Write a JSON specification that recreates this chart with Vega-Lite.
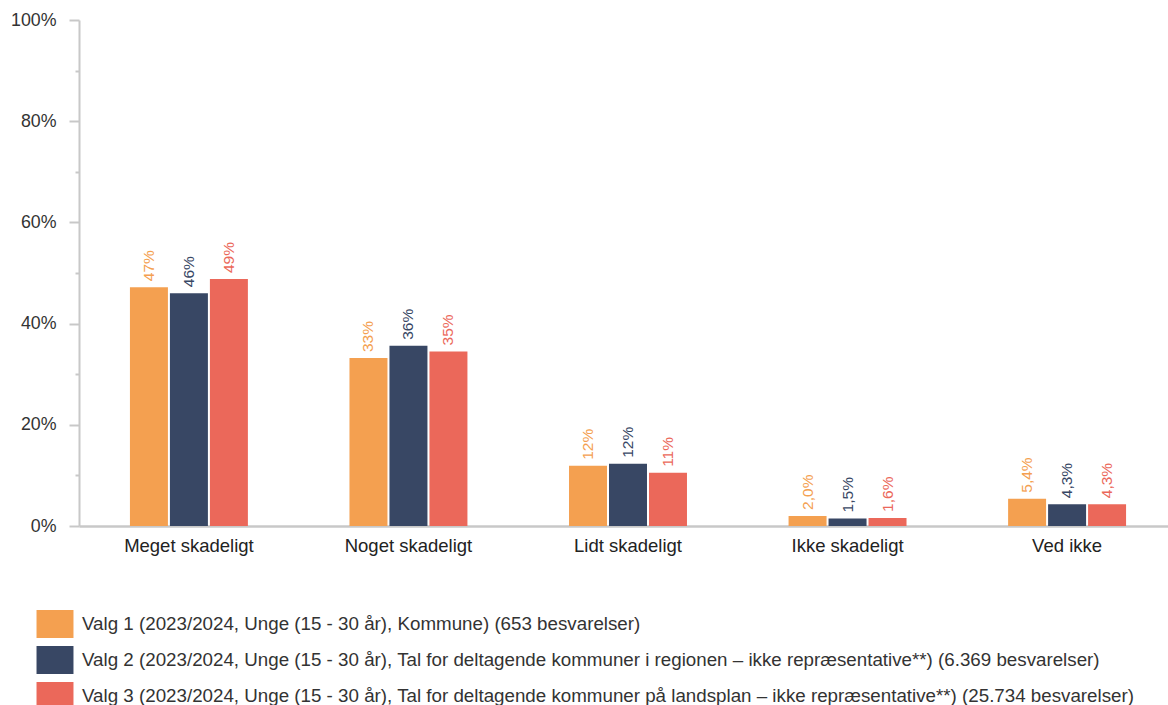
{
  "$schema": "https://vega.github.io/schema/vega-lite/v6.json",
  "autosize": "none",
  "width": 1089,
  "height": 506,
  "padding": {"left": 79, "top": 20, "right": 0, "bottom": 179},
  "background": "white",
  "config": {
    "font": "Liberation Sans",
    "view": {"stroke": null}
  },
  "data": {
    "values": [
      {"kategori": "Meget skadeligt", "serie": "Valg 1 (2023/2024, Unge (15 - 30 år), Kommune) (653 besvarelser)", "v": 0.472, "lbl": "47%"},
      {"kategori": "Meget skadeligt", "serie": "Valg 2 (2023/2024, Unge (15 - 30 år), Tal for deltagende kommuner i regionen – ikke repræsentative**) (6.369 besvarelser)", "v": 0.460, "lbl": "46%"},
      {"kategori": "Meget skadeligt", "serie": "Valg 3 (2023/2024, Unge (15 - 30 år), Tal for deltagende kommuner på landsplan – ikke repræsentative**) (25.734 besvarelser)", "v": 0.488, "lbl": "49%"},
      {"kategori": "Noget skadeligt", "serie": "Valg 1 (2023/2024, Unge (15 - 30 år), Kommune) (653 besvarelser)", "v": 0.332, "lbl": "33%"},
      {"kategori": "Noget skadeligt", "serie": "Valg 2 (2023/2024, Unge (15 - 30 år), Tal for deltagende kommuner i regionen – ikke repræsentative**) (6.369 besvarelser)", "v": 0.356, "lbl": "36%"},
      {"kategori": "Noget skadeligt", "serie": "Valg 3 (2023/2024, Unge (15 - 30 år), Tal for deltagende kommuner på landsplan – ikke repræsentative**) (25.734 besvarelser)", "v": 0.345, "lbl": "35%"},
      {"kategori": "Lidt skadeligt", "serie": "Valg 1 (2023/2024, Unge (15 - 30 år), Kommune) (653 besvarelser)", "v": 0.119, "lbl": "12%"},
      {"kategori": "Lidt skadeligt", "serie": "Valg 2 (2023/2024, Unge (15 - 30 år), Tal for deltagende kommuner i regionen – ikke repræsentative**) (6.369 besvarelser)", "v": 0.123, "lbl": "12%"},
      {"kategori": "Lidt skadeligt", "serie": "Valg 3 (2023/2024, Unge (15 - 30 år), Tal for deltagende kommuner på landsplan – ikke repræsentative**) (25.734 besvarelser)", "v": 0.105, "lbl": "11%"},
      {"kategori": "Ikke skadeligt", "serie": "Valg 1 (2023/2024, Unge (15 - 30 år), Kommune) (653 besvarelser)", "v": 0.020, "lbl": "2,0%"},
      {"kategori": "Ikke skadeligt", "serie": "Valg 2 (2023/2024, Unge (15 - 30 år), Tal for deltagende kommuner i regionen – ikke repræsentative**) (6.369 besvarelser)", "v": 0.015, "lbl": "1,5%"},
      {"kategori": "Ikke skadeligt", "serie": "Valg 3 (2023/2024, Unge (15 - 30 år), Tal for deltagende kommuner på landsplan – ikke repræsentative**) (25.734 besvarelser)", "v": 0.016, "lbl": "1,6%"},
      {"kategori": "Ved ikke", "serie": "Valg 1 (2023/2024, Unge (15 - 30 år), Kommune) (653 besvarelser)", "v": 0.054, "lbl": "5,4%"},
      {"kategori": "Ved ikke", "serie": "Valg 2 (2023/2024, Unge (15 - 30 år), Tal for deltagende kommuner i regionen – ikke repræsentative**) (6.369 besvarelser)", "v": 0.043, "lbl": "4,3%"},
      {"kategori": "Ved ikke", "serie": "Valg 3 (2023/2024, Unge (15 - 30 år), Tal for deltagende kommuner på landsplan – ikke repræsentative**) (25.734 besvarelser)", "v": 0.043, "lbl": "4,3%"}
    ]
  },
  "encoding": {
    "x": {
      "field": "kategori",
      "type": "nominal",
      "sort": ["Meget skadeligt", "Noget skadeligt", "Lidt skadeligt", "Ikke skadeligt", "Ved ikke"],
      "scale": {"paddingInner": 0.4627, "paddingOuter": 0.232, "range": [0, 1098]},
      "axis": {
        "title": null,
        "labelAngle": 0,
        "ticks": false,
        "domainColor": "#c8c8c8",
        "domainWidth": 2.5,
        "labelFontSize": 18.5,
        "labelColor": "#222222",
        "labelPadding": 10
      }
    },
    "xOffset": {
      "field": "serie",
      "type": "nominal",
      "scale": {"paddingInner": 0.05, "paddingOuter": 0}
    },
    "y": {
      "field": "v",
      "type": "quantitative",
      "scale": {"domain": [0, 1], "nice": false},
      "axis": {
        "title": null,
        "grid": false,
        "values": [0, 0.1, 0.2, 0.3, 0.4, 0.5, 0.6, 0.7, 0.8, 0.9, 1],
        "labelExpr": "round(datum.value*10) % 2 == 1 ? '' : format(datum.value, '.0%')",
        "tickSize": {"condition": {"test": "round(datum.value*10) % 2 == 1", "value": 4}, "value": 10},
        "tickColor": "#c8c8c8",
        "tickWidth": 2,
        "domainColor": "#c8c8c8",
        "domainWidth": 2,
        "labelFontSize": 17.8,
        "labelColor": "#333333",
        "labelPadding": 13
      }
    }
  },
  "layer": [
    {
      "mark": {"type": "bar"},
      "encoding": {
        "color": {
          "field": "serie",
          "type": "nominal",
          "scale": {"range": ["#F4A050", "#384764", "#EB685A"]},
          "legend": {
            "title": null,
            "orient": "none",
            "legendX": -38,
            "legendY": 590,
            "direction": "vertical",
            "symbolType": "M-1.32,-1H1.32V1H-1.32Z",
            "symbolSize": 784,
            "symbolStrokeWidth": 0,
            "rowPadding": 8,
            "labelFontSize": 18.75,
            "labelColor": "#333333",
            "labelOffset": 13,
            "labelLimit": 1200
          }
        }
      }
    },
    {
      "mark": {"type": "text", "angle": -90, "align": "left", "baseline": "middle", "dx": 6, "fontSize": 15.5},
      "encoding": {
        "text": {"field": "lbl"},
        "color": {
          "field": "serie",
          "type": "nominal",
          "scale": {"range": ["#E8954D", "#384764", "#E0645A"]},
          "legend": null
        }
      }
    }
  ]
}
